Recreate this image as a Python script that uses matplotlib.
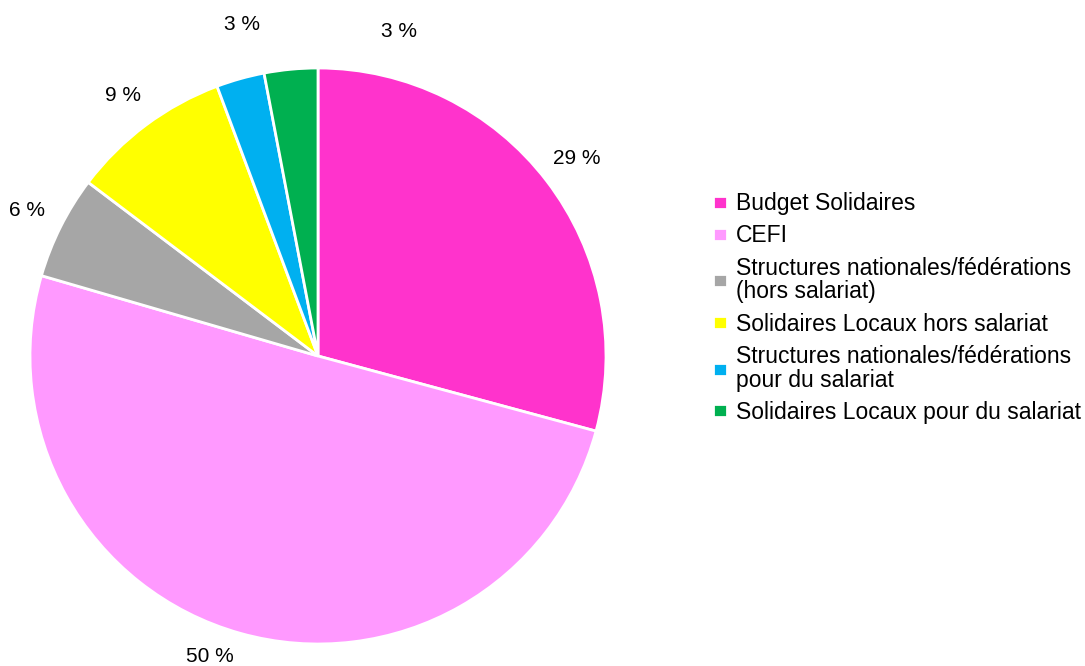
import numpy as np
import matplotlib
matplotlib.use('Agg')
import matplotlib.pyplot as plt

plt.rcParams['font.family'] = ['Liberation Sans', 'DejaVu Sans']

labels = ['Budget Solidaires', 'CEFI',
          'Structures nationales/fédérations\n(hors salariat)',
          'Solidaires Locaux hors salariat',
          'Structures nationales/fédérations\npour du salariat',
          'Solidaires Locaux pour du salariat']
values = [29.2, 50.3, 5.8, 9.0, 2.7, 3.0]
colors = ['#FF33CC', '#FF99FF', '#A6A6A6', '#FFFF00', '#00B0F0', '#00B050']

fig = plt.figure(figsize=(10.85, 6.66), dpi=100)
ax = fig.add_axes([30/1085, 22/666, 576/1085, 576/666])

wedges, texts, autotexts = ax.pie(values, colors=colors, startangle=90, counterclock=False,
                                  autopct=lambda p: '%d %%' % round(p), pctdistance=1.13,
                                  wedgeprops=dict(edgecolor='white', linewidth=2),
                                  textprops=dict(fontsize=15, color='black'))
ax.set_xlim(-1, 1)
ax.set_ylim(-1, 1)

# nudge some labels to where the original had them
def place(t, deg, r):
    a = np.deg2rad(deg)
    t.set_position((r*np.cos(a), r*np.sin(a)))

place(autotexts[1], -109.7, 1.11)
place(autotexts[4], 103, 1.18)
place(autotexts[5], 76, 1.16)

leg = fig.legend(wedges, labels, loc='center left', bbox_to_anchor=(713/1085, (666-308)/666),
                 frameon=False, fontsize=16.5, handlelength=0.62, handleheight=0.5,
                 handletextpad=0.38, labelspacing=0.4, borderpad=0, borderaxespad=0)
for t in leg.get_texts():
    t.set_linespacing(1.05)

fig.savefig('out.png')
